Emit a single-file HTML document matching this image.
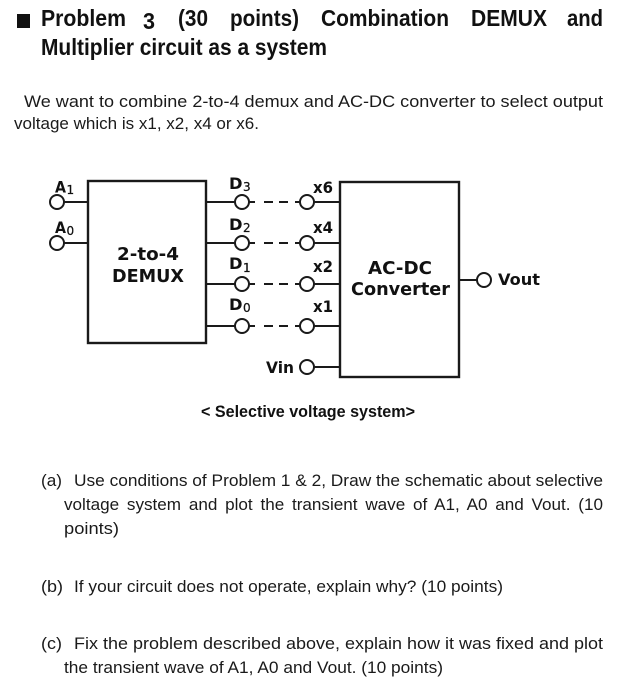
<!DOCTYPE html>
<html lang="en">
<head>
<meta charset="utf-8">
<title>Problem 3</title>
<style>
html,body{margin:0;padding:0;background:#fff}
svg{display:block;filter:blur(0.3px)}
.t{font-family:"Liberation Sans",sans-serif;fill:#1a1a1a;font-size:17px}
.h{font-family:"Liberation Sans",sans-serif;font-weight:bold;fill:#111;font-size:23px}
.c{font-family:"Liberation Sans",sans-serif;font-weight:bold;fill:#111;font-size:17px}
.d{font-family:"DejaVu Sans",sans-serif;font-weight:bold;fill:#111;font-size:16px}
.e{font-family:"DejaVu Sans",sans-serif;font-weight:bold;fill:#111;font-size:18px}
.s{font-family:"DejaVu Sans",sans-serif;fill:#111;font-size:12px;stroke:#111;stroke-width:0.25}
.w{stroke:#1a1a1a;stroke-width:2;fill:none}
.o{stroke:#1a1a1a;stroke-width:2;fill:#fff}
.b{stroke:#1a1a1a;stroke-width:2.4;fill:#fff}
</style>
</head>
<body>
<svg width="618" height="700" viewBox="0 0 618 700" xmlns="http://www.w3.org/2000/svg">
<rect width="618" height="700" fill="#fff"/>
<rect x="17" y="14" width="13" height="14" fill="#111"/>
<g class="h">
<text x="41" y="26" textLength="85" lengthAdjust="spacingAndGlyphs">Problem</text>
<text x="143" y="29" textLength="12" lengthAdjust="spacingAndGlyphs">3</text>
<text x="178" y="26" textLength="30" lengthAdjust="spacingAndGlyphs">(30</text>
<text x="230" y="26" textLength="69" lengthAdjust="spacingAndGlyphs">points)</text>
<text x="321" y="26" textLength="128" lengthAdjust="spacingAndGlyphs">Combination</text>
<text x="471" y="26" textLength="76" lengthAdjust="spacingAndGlyphs">DEMUX</text>
<text x="567" y="26" textLength="36" lengthAdjust="spacingAndGlyphs">and</text>
<text x="41" y="55" textLength="286" lengthAdjust="spacingAndGlyphs">Multiplier circuit as a system</text>
</g>
<g class="t">
<text x="24" y="107" textLength="579" lengthAdjust="spacingAndGlyphs">We want to combine 2-to-4 demux and AC-DC converter to select output</text>
<text x="14" y="129" textLength="245" lengthAdjust="spacingAndGlyphs">voltage which is x1, x2, x4 or x6.</text>
</g>

<rect class="b" x="88" y="181" width="118" height="162"/>
<rect class="b" x="340" y="182" width="119" height="195"/>

<path class="w" d="M64 202H88M64 243H88M206 202H235M206 243H235M206 284H235M206 326H235M314 202H340M314 243H340M314 284H340M314 326H340M314 367H340M459 280H477"/>
<path class="w" d="M249 202H255M264 202H273M279 202H288M295 202H300M249 243H255M264 243H273M279 243H288M295 243H300M249 284H255M264 284H273M279 284H288M295 284H300M249 326H255M264 326H273M279 326H288M295 326H300"/>

<circle class="o" cx="57" cy="202" r="7"/>
<circle class="o" cx="57" cy="243" r="7"/>
<circle class="o" cx="242" cy="202" r="7"/>
<circle class="o" cx="242" cy="243" r="7"/>
<circle class="o" cx="242" cy="284" r="7"/>
<circle class="o" cx="242" cy="326" r="7"/>
<circle class="o" cx="307" cy="202" r="7"/>
<circle class="o" cx="307" cy="243" r="7"/>
<circle class="o" cx="307" cy="284" r="7"/>
<circle class="o" cx="307" cy="326" r="7"/>
<circle class="o" cx="307" cy="367" r="7"/>
<circle class="o" cx="484" cy="280" r="7"/>

<text class="d" x="55" y="192.5" textLength="11" lengthAdjust="spacingAndGlyphs">A</text><text class="s" x="66.5" y="194">1</text>
<text class="d" x="55" y="233" textLength="11" lengthAdjust="spacingAndGlyphs">A</text><text class="s" x="66.5" y="235">0</text>
<text class="d" x="229" y="189" textLength="13.5" lengthAdjust="spacingAndGlyphs">D</text><text class="s" x="243" y="191">3</text>
<text class="d" x="229" y="230" textLength="13.5" lengthAdjust="spacingAndGlyphs">D</text><text class="s" x="243" y="232">2</text>
<text class="d" x="229" y="269" textLength="13.5" lengthAdjust="spacingAndGlyphs">D</text><text class="s" x="243" y="272">1</text>
<text class="d" x="229" y="310" textLength="13.5" lengthAdjust="spacingAndGlyphs">D</text><text class="s" x="243" y="312">0</text>

<text class="d" x="313" y="193" textLength="20" lengthAdjust="spacingAndGlyphs">x6</text>
<text class="d" x="313" y="233" textLength="20" lengthAdjust="spacingAndGlyphs">x4</text>
<text class="d" x="313" y="272" textLength="20" lengthAdjust="spacingAndGlyphs">x2</text>
<text class="d" x="313" y="312" textLength="20" lengthAdjust="spacingAndGlyphs">x1</text>
<text class="d" x="266" y="373" textLength="28" lengthAdjust="spacingAndGlyphs">Vin</text>
<text class="d" x="498" y="285" textLength="42" lengthAdjust="spacingAndGlyphs">Vout</text>
<text class="e" x="117" y="260" textLength="62" lengthAdjust="spacingAndGlyphs">2-to-4</text>
<text class="e" x="112" y="282" textLength="72" lengthAdjust="spacingAndGlyphs">DEMUX</text>
<text class="e" x="368" y="274" textLength="64" lengthAdjust="spacingAndGlyphs">AC-DC</text>
<text class="e" x="351" y="295" textLength="99" lengthAdjust="spacingAndGlyphs">Converter</text>

<text class="c" x="201" y="417" textLength="214" lengthAdjust="spacingAndGlyphs">&lt; Selective voltage system&gt;</text>

<g class="t">
<text x="41" y="486" textLength="21" lengthAdjust="spacingAndGlyphs">(a)</text>
<text x="74" y="486" textLength="529" lengthAdjust="spacingAndGlyphs">Use conditions of Problem 1 &amp; 2, Draw the schematic about selective</text>
<text x="64" y="510" textLength="539" lengthAdjust="spacingAndGlyphs" word-spacing="3">voltage system and plot the transient wave of A1, A0 and Vout. (10</text>
<text x="64" y="534" textLength="55" lengthAdjust="spacingAndGlyphs">points)</text>
<text x="41" y="592" textLength="22" lengthAdjust="spacingAndGlyphs">(b)</text>
<text x="74" y="592" textLength="429" lengthAdjust="spacingAndGlyphs">If your circuit does not operate, explain why? (10 points)</text>
<text x="41" y="649" textLength="21" lengthAdjust="spacingAndGlyphs">(c)</text>
<text x="74" y="649" textLength="529" lengthAdjust="spacingAndGlyphs">Fix the problem described above, explain how it was fixed and plot</text>
<text x="64" y="673" textLength="379" lengthAdjust="spacingAndGlyphs">the transient wave of A1, A0 and Vout. (10 points)</text>
</g>
</svg>
</body>
</html>
